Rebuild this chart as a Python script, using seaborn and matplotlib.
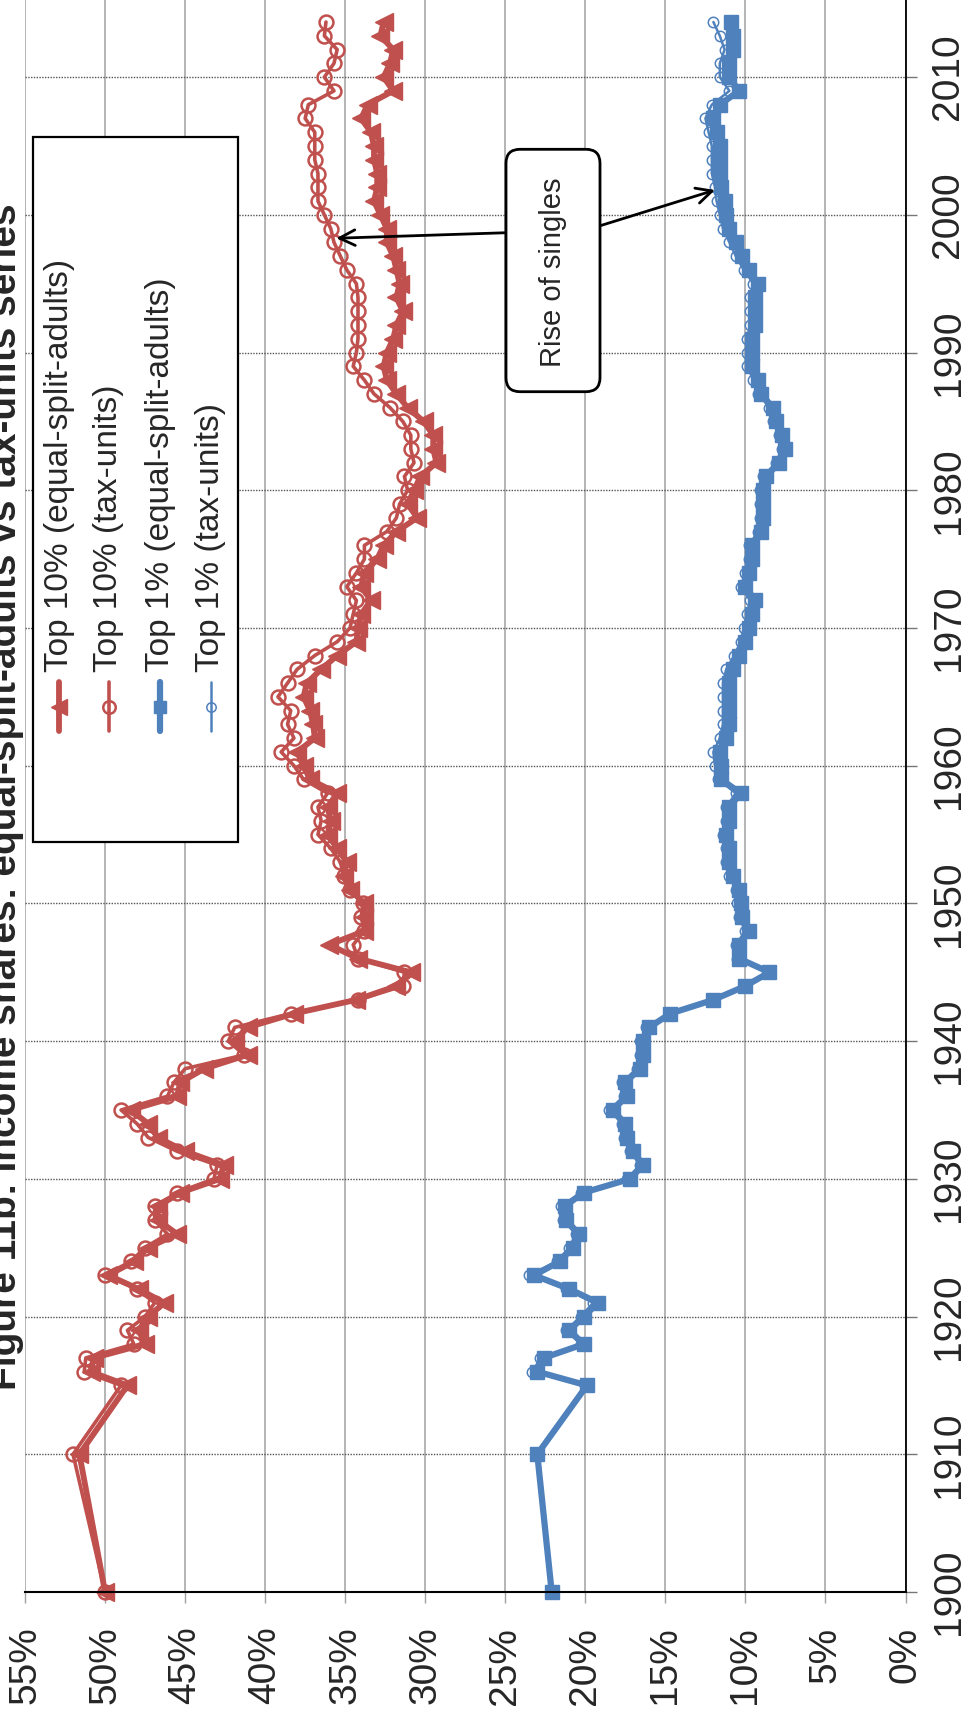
import matplotlib
matplotlib.use("Agg")
import matplotlib.pyplot as plt
from matplotlib.lines import Line2D
from matplotlib.patches import Rectangle, FancyBboxPatch
import seaborn as sns

sns.set_theme(style="white")
plt.rcParams['font.family'] = ['Liberation Sans', 'DejaVu Sans']

# ---- data ----
years = [1900, 1910,
         1915, 1916, 1917, 1918, 1919, 1920, 1921, 1922, 1923, 1924,
         1925, 1926, 1927, 1928, 1929, 1930, 1931, 1932, 1933, 1934,
         1935, 1936, 1937, 1938, 1939, 1940, 1941, 1942, 1943, 1944,
         1945, 1946, 1947, 1948, 1949, 1950, 1951, 1952, 1953, 1954,
         1955, 1956, 1957, 1958, 1959, 1960, 1961, 1962, 1963, 1964,
         1965, 1966, 1967, 1968, 1969, 1970, 1971, 1972, 1973, 1974,
         1975, 1976, 1977, 1978, 1979, 1980, 1981, 1982, 1983, 1984,
         1985, 1986, 1987, 1988, 1989, 1990, 1991, 1992, 1993, 1994,
         1995, 1996, 1997, 1998, 1999, 2000, 2001, 2002, 2003, 2004,
         2005, 2006, 2007, 2008, 2009, 2010, 2011, 2012, 2013, 2014]

top10_adults = [50.0, 51.6,
                48.6, 50.9, 50.7, 47.5, 47.9, 47.3, 46.3, 47.9, 49.8, 48.2,
                47.3, 45.5, 46.7, 46.7, 45.3, 42.8, 42.6, 45.0, 46.7, 47.3,
                48.4, 45.5, 45.3, 43.8, 41.1, 41.9, 41.1, 38.2, 34.3, 31.8,
                30.9, 34.2, 36.0, 33.8, 33.8, 33.8, 34.7, 35.1, 34.9, 35.5,
                36.1, 35.9, 36.1, 35.5, 37.2, 37.6, 38.0, 36.9, 37.0, 37.2,
                37.6, 37.4, 36.5, 35.5, 34.3, 34.2, 34.0, 33.4, 34.0, 33.8,
                33.0, 32.6, 31.8, 30.5, 31.1, 30.7, 30.3, 29.3, 29.5, 29.5,
                30.1, 31.1, 31.8, 32.4, 32.6, 32.4, 32.0, 31.8, 31.4, 31.8,
                31.6, 31.8, 32.0, 32.4, 32.4, 32.8, 33.2, 33.0, 33.0, 33.2,
                33.2, 33.4, 34.0, 33.6, 32.0, 32.6, 32.2, 32.0, 32.8, 32.6]

top10_taxunits = [50.0, 52.0,
                  49.0, 51.3, 51.2, 48.2, 48.6, 47.5, 46.9, 48.0, 50.0, 48.4,
                  47.5, 46.1, 46.9, 46.9, 45.5, 43.2, 43.0, 45.5, 47.3, 48.0,
                  49.0, 46.1, 45.7, 45.0, 41.3, 42.3, 41.9, 38.4, 34.2, 31.4,
                  31.3, 34.2, 34.5, 33.8, 34.0, 33.9, 34.7, 35.1, 35.3, 35.9,
                  36.7, 36.5, 36.7, 36.1, 37.6, 38.2, 39.0, 38.2, 38.6, 38.4,
                  39.2, 38.6, 38.0, 36.9, 35.5, 34.7, 34.5, 34.3, 34.9, 34.3,
                  33.8, 33.8, 32.4, 31.8, 31.6, 31.1, 31.3, 30.7, 30.9, 30.9,
                  31.4, 32.2, 33.2, 33.8, 34.5, 34.3, 34.2, 34.2, 34.2, 34.2,
                  34.3, 34.9, 35.3, 35.7, 35.9, 36.3, 36.7, 36.7, 36.7, 36.9,
                  36.9, 36.9, 37.5, 37.3, 35.7, 36.3, 35.7, 35.5, 36.3, 36.2]

top1_adults = [22.1, 23.0,
               19.9, 23.0, 22.6, 20.1, 21.0, 20.1, 19.2, 21.0, 23.2, 21.6,
               20.8, 20.4, 21.2, 21.3, 20.1, 17.2, 16.4, 17.0, 17.4, 17.5,
               18.3, 17.4, 17.5, 16.6, 16.4, 16.4, 16.0, 14.7, 12.0, 10.0,
               8.5, 10.4, 10.4, 9.8, 10.2, 10.3, 10.4, 10.8, 11.0, 11.0,
               11.2, 11.0, 11.0, 10.3, 11.5, 11.5, 11.6, 11.2, 11.0, 11.0,
               11.0, 11.0, 10.8, 10.4, 10.0, 9.8, 9.6, 9.4, 10.0, 9.8,
               9.6, 9.6, 9.0, 8.9, 8.9, 8.9, 8.7, 7.9, 7.5, 7.7,
               8.1, 8.3, 9.0, 9.2, 9.6, 9.6, 9.6, 9.4, 9.4, 9.4,
               9.2, 9.8, 10.2, 10.6, 11.0, 11.2, 11.3, 11.5, 11.6, 11.6,
               11.6, 11.8, 12.0, 11.6, 10.4, 11.0, 11.0, 10.8, 10.8, 10.9]

top1_taxunits = [22.1, 23.0,
                 20.0, 23.3, 22.8, 20.3, 21.2, 20.3, 19.5, 21.2, 23.5, 21.8,
                 21.0, 20.6, 21.4, 21.5, 20.3, 17.4, 16.6, 17.2, 17.6, 17.7,
                 18.5, 17.6, 17.7, 16.8, 16.6, 16.6, 16.2, 14.8, 12.1, 10.1,
                 8.6, 10.5, 10.6, 10.0, 10.4, 10.5, 10.6, 11.0, 11.2, 11.2,
                 11.4, 11.2, 11.2, 10.6, 11.7, 11.9, 12.0, 11.6, 11.4, 11.4,
                 11.4, 11.4, 11.2, 10.7, 10.3, 10.1, 9.9, 9.7, 10.3, 10.0,
                 9.8, 9.8, 9.2, 9.1, 9.1, 9.1, 8.9, 8.1, 7.7, 7.9,
                 8.3, 8.5, 9.2, 9.5, 9.9, 9.9, 9.9, 9.7, 9.7, 9.7,
                 9.5, 10.1, 10.6, 11.0, 11.4, 11.6, 11.8, 11.9, 12.1, 12.1,
                 12.1, 12.3, 12.5, 12.1, 11.0, 11.6, 11.6, 11.3, 11.6, 12.0]

labels = ["Top 10% (equal-split-adults)", "Top 10% (tax-units)",
          "Top 1% (equal-split-adults)", "Top 1% (tax-units)"]
title = "Figure 11b: Income shares: equal-split-adults vs tax-units series"

RED = "#C0504D"
BLUE = "#4F81BD"
W, H = 969, 1718

series = [
    (top10_adults, dict(color=RED, lw=4.2, marker="<", ms=13, mfc=RED, mec=RED, mew=1.0)),
    (top10_taxunits, dict(color=RED, lw=2.6, marker="o", ms=10, mfc="none", mec=RED, mew=1.8)),
    (top1_adults, dict(color=BLUE, lw=4.5, marker="s", ms=10, mfc=BLUE, mec=BLUE, mew=1.0)),
    (top1_taxunits, dict(color=BLUE, lw=1.8, marker="o", ms=7.5, mfc="none", mec=BLUE, mew=1.1)),
]

fig = plt.figure(figsize=(W / 100, H / 100), dpi=100)
ax = fig.add_axes([25 / W, 126 / H, (905.5 - 25) / W, 1 - 126 / H])

# chart is drawn turned on its side: shares across, years upward
for vals, st in series:
    sns.lineplot(x=vals, y=years, sort=False, estimator=None, ax=ax,
                 legend=False, clip_on=False, **st)

ax.set_xlim(55, 0)
ax.set_ylim(1900, 2015.6)
pct_ticks = list(range(0, 60, 5))
ax.set_xticks(pct_ticks)
ax.set_xticklabels([f"{v}%" for v in pct_ticks])
ax.set_yticks(list(range(1900, 2020, 10)))
ax.yaxis.tick_right()
ax.set_xlabel("")
ax.set_ylabel("")

ax.grid(axis="x", color="#a0a0a0", lw=1.1, ls="-")
ax.grid(axis="y", color="#555555", lw=1.0, ls=(0, (1, 1)))
ax.set_axisbelow(True)

for s in ["top", "left"]:
    ax.spines[s].set_visible(False)
ax.spines["bottom"].set_color("black")
ax.spines["bottom"].set_linewidth(1.5)
ax.spines["right"].set_color("black")
ax.spines["right"].set_linewidth(1.3)

ax.tick_params(axis="x", bottom=True, direction="out", length=8, width=1,
               color="#a0a0a0", pad=17, labelsize=28, labelrotation=90)
ax.tick_params(axis="y", right=True, left=False, direction="out", length=8,
               width=1, color="#777777", pad=10, labelsize=28, labelrotation=90)
for lab in ax.get_yticklabels():
    lab.set_va("center")

# annotation: rounded box laid out in inches so the corners stay round
box = FancyBboxPatch((5.06, (H - 391.7) / 100), 0.94, (391.7 - 149.3) / 100,
                     boxstyle="round,pad=0,rounding_size=0.14",
                     transform=fig.dpi_scale_trans, fc="white", ec="black",
                     lw=2, zorder=5)
fig.add_artist(box)
fig.text(5.53 / (W / 100), 1 - 272 / H, "Rise of singles", rotation=90,
         ha="center", va="center", fontsize=21, zorder=6)
arrow = dict(arrowstyle="->", color="black", lw=2, mutation_scale=28,
             shrinkA=0, shrinkB=0)
ax.annotate("", xy=(35.55, 1998.3), xytext=(24.97, 1998.7), arrowprops=arrow, zorder=6)
ax.annotate("", xy=(11.9, 2001.8), xytext=(19.1, 1999.2), arrowprops=arrow, zorder=6)


def fx(px):
    return px / W


def fy(py):
    return 1 - py / H


# legend, built by hand so its text can stand on its side
fig.add_artist(Rectangle((fx(33.3), fy(842)), fx(237.7) - fx(33.3), fy(136.5) - fy(842),
                         transform=fig.transFigure, fc="white", ec="black", lw=1.6, zorder=10))
handle_x = [59, 109, 160, 211]
text_x = [60, 109, 160, 210]
for (vals, st), lab, hx, tx in zip(series, labels, handle_x, text_x):
    fig.add_artist(Line2D([fx(hx), fx(hx)], [fy(682), fy(731)], transform=fig.transFigure,
                          color=st["color"], lw=st["lw"], solid_capstyle="round", zorder=11))
    fig.add_artist(Line2D([fx(hx)], [fy(706.6)], transform=fig.transFigure, ls="none",
                          marker=st["marker"], ms=st["ms"] * 0.9, mfc=st["mfc"], mec=st["mec"],
                          mew=st["mew"], zorder=12))
    fig.text(fx(tx), fy(672), lab, rotation=90, ha="center", va="bottom",
             fontsize=24, zorder=12)

fig.text(fx(24), 0.536, title, rotation=90, ha="right", va="center",
         fontsize=28, fontweight="bold")

fig.savefig("out.png", dpi=100)
